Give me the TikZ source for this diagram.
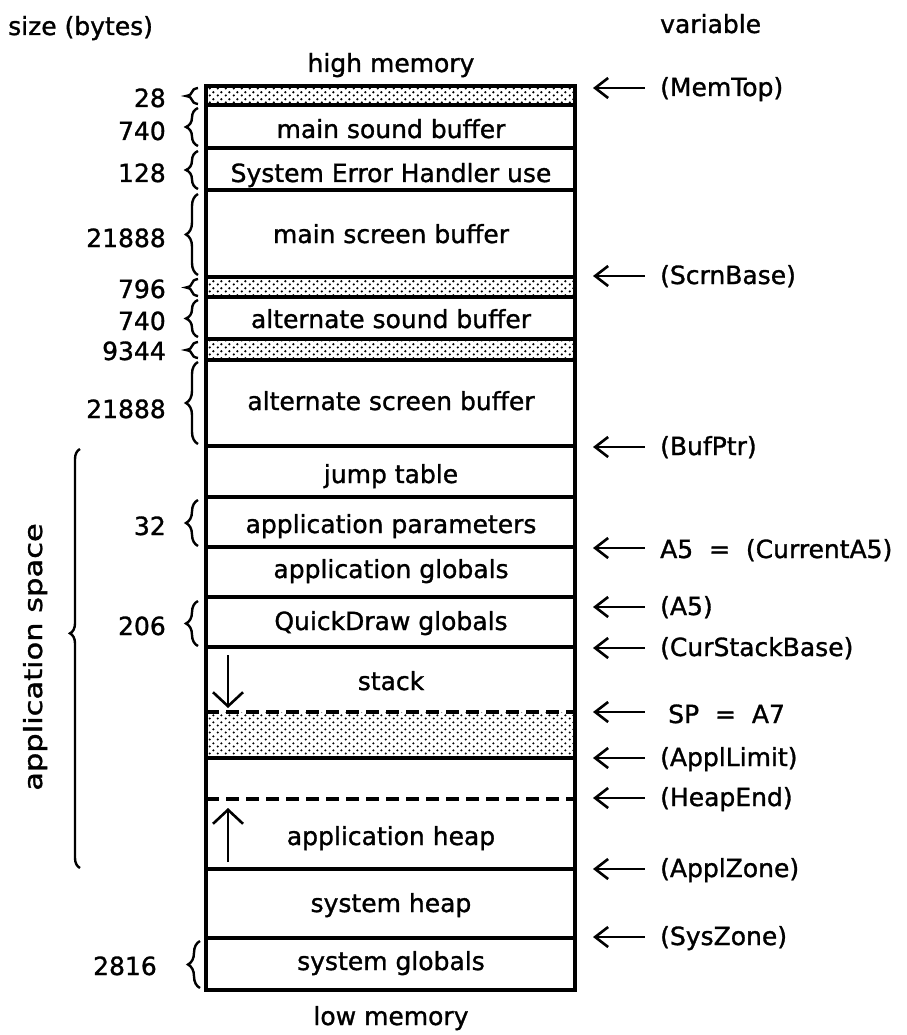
\documentclass[tikz,border=0pt]{standalone}
\usepackage{fontspec}
\setmainfont{DejaVu Sans}[BoldFont=DejaVu Sans, BoldFeatures={FakeBold=1.2}]
\usetikzlibrary{arrows.meta, decorations.pathreplacing, patterns.meta}

% fine dot screen used for the unused gaps
\tikzdeclarepattern{
  name=memdots,
  type=uncolored,
  bounding box={(0pt,0pt) and (8pt,7pt)},
  tile size={(8pt,7pt)},
  code={
    \fill (2pt,1.75pt) circle [radius=1.3pt];
    \fill (6pt,5.25pt) circle [radius=1.3pt];
  }
}

\begin{document}
\begin{tikzpicture}[
    x=1pt, y=-1pt,
    every node/.style={font=\fontsize{25}{30}\selectfont\bfseries, inner sep=0pt,
                       text height=19pt, text depth=5pt},
    wall/.style={line width=3.4pt},
    cut/.style={line width=3.4pt, dash pattern=on 13pt off 7pt},
    speckle/.style={pattern=memdots},
    brc/.style={decorate, decoration={brace, amplitude=12pt}, line width=2.4pt},
    bigbrc/.style={decorate, decoration={brace, amplitude=10pt, aspect=0.56},
                   line width=2.4pt},
    ptr/.style={{Straight Barb[length=13pt, width=20pt]}-, line width=2.6pt},
    growarr/.style={-{Straight Barb[length=14pt, width=30pt]}, line width=2.6pt},
    blk/.style={anchor=center},
    sz/.style={anchor=east},
    var/.style={anchor=west},
  ]
  \useasboundingbox (0,0) rectangle (906,1035);

  % headings
  \node[var] (sizehead) at (8,28) {size (bytes)};
  \node[var] (varhead) at (660,26) {variable};
  \node[blk] (highmem) at (391,65) {high memory};
  \node[blk] (lowmem) at (391,1018) {low memory};

  % unused (dotted) areas
  \fill[speckle] (206,86) rectangle (575,105);
  \fill[speckle] (206,277) rectangle (575,297);
  \fill[speckle] (206,339) rectangle (575,360);
  \fill[speckle] (206,712) rectangle (575,758);

  % memory column
  \foreach \y in {105,148,190,277,297,339,360,446,497,547,597,647,758,869,938}
    \draw[wall] (206,\y) -- (575,\y);
  \draw[cut] (206,712) -- (575,712);
  \draw[cut] (206,799) -- (575,799);
  \draw[wall] (206,86) rectangle (575,990);

  \foreach \y/\nm/\txt in {131/mainsnd/main sound buffer,
      175/syserr/System Error Handler use,
      236/mainscr/main screen buffer,
      321/altsnd/alternate sound buffer,
      403/altscr/alternate screen buffer,
      476/jmptab/jump table,
      526/appparm/application parameters,
      571/appglob/application globals,
      623/qdglob/QuickDraw globals,
      683/stack/stack,
      838/appheap/application heap,
      905/sysheap/system heap,
      963/sysglob/system globals}
    \node[blk] (\nm) at (391,\y) {\txt};

  % growth directions
  \draw[growarr] (228,655) -- (228,708);
  \draw[growarr] (228,862) -- (228,808);

  % sizes
  \foreach \top/\bot/\y/\nm/\txt in {88/104/100/s28/28,
      108/146/133/s740a/740,
      151/189/175/s128/128,
      194/275/240/s21888a/21888,
      279/296/291/s796/796,
      300/337/323/s740b/740,
      342/358/353/s9344/9344,
      362/444/411/s21888b/21888,
      500/546/528/s32/32,
      601/646/628/s206/206}
  {
    \draw[brc] (198,\bot) -- (198,\top);
    \node[sz] (\nm) at (166,\y) {\txt};
  }
  \draw[brc] (200,988) -- (200,941);
  \node[sz] (s2816) at (157,968) {2816};

  % application space
  \draw[bigbrc] (80,868) -- (80,449);
  \node[rotate=90] (appspace) at (35,657) {\scalebox{1.22}[1]{application space}};

  % variables
  \foreach \ya/\yn/\nm/\txt in {88/89/memtop/(MemTop),
      276/277/scrnbase/(ScrnBase),
      447/448/bufptr/(BufPtr),
      548/551/curA5/A5~~=~~(CurrentA5),
      607/608/regA5/(A5),
      648/649/curstack/(CurStackBase),
      712/716/spA7/\hspace*{8pt}SP~~=~~A7,
      758/759/appllimit/(ApplLimit),
      798/799/heapend/(HeapEnd),
      869/870/applzone/(ApplZone),
      937/938/syszone/(SysZone)}
  {
    \node[var] (\nm) at (660,\yn) {\txt};
    \coordinate (\nm-p) at (593,\ya);
    \draw[ptr] (\nm-p) -- ([xshift=-15pt]\nm.west |- \nm-p);
  }
\end{tikzpicture}
\end{document}
